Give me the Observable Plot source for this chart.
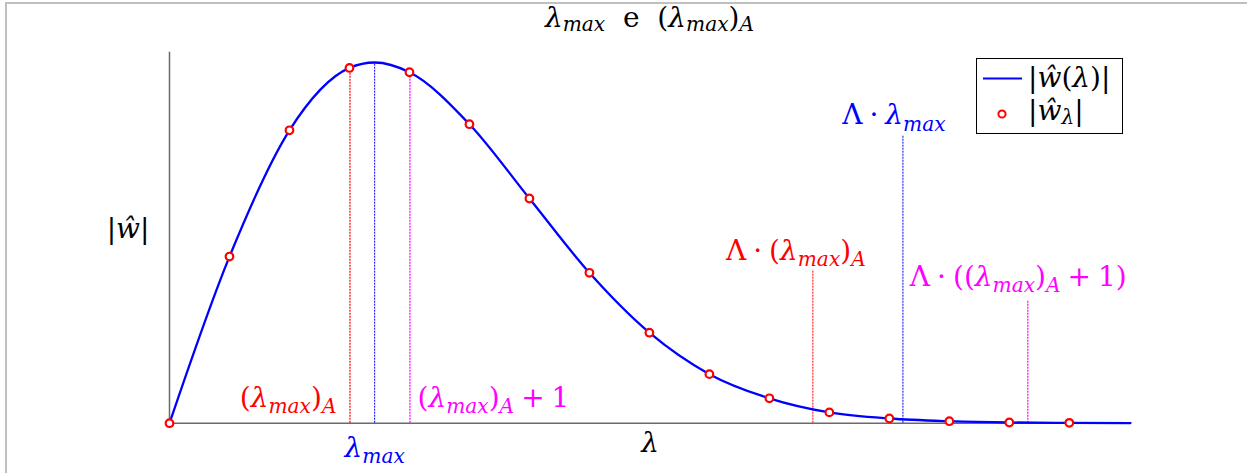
<!DOCTYPE html>
<html>
<head>
<meta charset="utf-8">
<script src="https://cdn.jsdelivr.net/npm/d3@7"></script>
<script src="https://cdn.jsdelivr.net/npm/@observablehq/plot@0.6"></script>
<style>
  html, body { margin: 0; padding: 0; background: #fff; width: 1247px; height: 473px; overflow: hidden; }
  #frame { position: absolute; left: 5px; top: 2px; width: 1400px; height: 700px; border: 2px solid #c0c0c0; box-sizing: border-box; }
  #wrap { position: absolute; left: 0; top: 0; width: 1247px; height: 473px; font-family: "DejaVu Serif", serif; }
  #title { position: absolute; left: 169px; width: 961px; top: 1px; height: 40px; text-align: center; font-size: 28px; line-height: 34px; white-space: nowrap; }
  #chart { position: absolute; left: 0; top: 40px; }
  .sub { font-size: 0.72em; font-style: italic; position: relative; top: 0.22em; }
  i { font-style: italic; }
  #legend { position: absolute; left: 976px; top: 58px; width: 147px; height: 76px; border: 1.3px solid #000; box-sizing: border-box; background: #fff; font-size: 28px; }
  #legend .row { position: absolute; left: 0; white-space: nowrap; line-height: 30px; }
  #legend .txt { position: absolute; left: 51px; }
</style>
</head>
<body>
<div id="frame"></div>
<div id="wrap">
  <div id="title"><i>λ</i><span class="sub">max</span>&nbsp; e &nbsp;(<i>λ</i><span class="sub">max</span>)<span class="sub">A</span></div>
  <div id="chart"></div>
  <div id="legend">
    <div class="row" style="top:4px;width:145px;height:30px">
      <svg width="50" height="30" style="position:absolute;left:0;top:0"><line x1="6" x2="45" y1="15.5" y2="15.5" stroke="#0000ff" stroke-width="2.2"/></svg>
      <span class="txt">|<i>ŵ</i>(<i>λ</i>)|</span>
    </div>
    <div class="row" style="top:37px;width:145px;height:30px">
      <svg width="50" height="30" style="position:absolute;left:0;top:0"><circle cx="25" cy="18" r="3.6" fill="#fff" stroke="#ff0000" stroke-width="2"/></svg>
      <span class="txt">|<i>ŵ</i><span class="sub">λ</span>|</span>
    </div>
  </div>
</div>
<script>
// Sampled magnitudes |ŵ_λ| at integer λ (normalised so the continuous peak is 1)
const lambdaSamples = [0, 1, 2, 3, 4, 5, 6, 7, 8, 9, 10, 11, 12, 13, 14, 15];
const wSamples = [0, 0.462, 0.812, 0.985, 0.973, 0.829, 0.623, 0.417, 0.251, 0.136, 0.069, 0.030, 0.013, 0.0055, 0.002, 0.001];

// Continuous envelope |ŵ(λ)|, including its maximum and the end of the axis
const curveLambda = [0, 1, 2, 3, 3.42, 4, 5, 6, 7, 8, 9, 10, 11, 12, 13, 14, 15, 16.02];
const curveW = [0, 0.462, 0.812, 0.985, 1.0, 0.973, 0.829, 0.623, 0.417, 0.251, 0.136, 0.069, 0.030, 0.013, 0.0055, 0.002, 0.001, 0.0004];

// Characteristic values
const lambdaMax = 3.42;   // λmax
const lambdaA = 3;        // (λmax)A
const bigLambda = 3.575;  // Λ

// Heights of the Λ-scaled markers: Λ·(λmax)A, Λ·λmax, Λ·((λmax)A+1)
const scaledMarkerTops = [0.425, 0.798, 0.34];

// Label texts (plain keys, typeset below with subscripts)
const labelTexts = ["(λmax)A", "(λmax)A + 1", "λmax", "Λ · (λmax)A", "Λ · λmax", "Λ · ((λmax)A + 1)", "λ", "|ŵ|"];

const RED = "#ff0000", BLUE = "#0000ff", MAGENTA = "#ff00ff";
const FS = 28;

const wAt = (l) => wSamples[lambdaSamples.indexOf(l)];
// dotted guides: the ones under the peak are softer, spread over two pixel columns
const dottedSoft = {strokeWidth: 1.2, strokeDasharray: "2,1", dx: 0.5};
const dottedThin = {strokeWidth: 1, strokeDasharray: "2,1"};

const plot = Plot.plot({
  width: 1247,
  height: 433,
  marginLeft: 169,
  marginRight: 117,
  marginTop: 11.7,
  marginBottom: 50.3,
  x: {domain: [0, 16.02], axis: null},
  y: {domain: [0, 1.0286], axis: null},
  style: {fontFamily: "'DejaVu Serif', serif", background: "transparent", overflow: "visible"},
  marks: [
    // axes
    Plot.ruleY([0], {stroke: "#6a6a6a", strokeWidth: 1.5}),
    Plot.ruleX([0], {stroke: "#6a6a6a", strokeWidth: 1.5}),

    // dotted markers up to the curve
    Plot.ruleX([lambdaA], {y1: 0, y2: wAt(lambdaA), stroke: RED, ...dottedSoft}),
    Plot.ruleX([lambdaMax], {y1: 0, y2: d3.max(curveW), stroke: BLUE, ...dottedThin}),
    Plot.ruleX([lambdaA + 1], {y1: 0, y2: wAt(lambdaA + 1), stroke: MAGENTA, ...dottedSoft}),

    // dotted markers at the Λ-scaled values
    Plot.ruleX([bigLambda * lambdaA], {y1: 0, y2: scaledMarkerTops[0], stroke: RED, ...dottedThin}),
    Plot.ruleX([bigLambda * lambdaMax], {y1: 0, y2: scaledMarkerTops[1], stroke: BLUE, ...dottedThin}),
    Plot.ruleX([bigLambda * (lambdaA + 1)], {y1: 0, y2: scaledMarkerTops[2], stroke: MAGENTA, ...dottedSoft}),

    // continuous envelope
    Plot.line(curveLambda, {x: (d) => d, y: (d, i) => curveW[i], stroke: BLUE, strokeWidth: 2.3, curve: "monotone-x"}),

    // discrete samples
    Plot.dot(lambdaSamples, {x: (d) => d, y: (d, i) => wSamples[i], r: 3.8, stroke: RED, strokeWidth: 2.2, fill: "#fff"}),

    // labels
    Plot.text([labelTexts[0]], {x: lambdaA, y: 0, text: (d) => d, fill: RED, fontSize: FS, textAnchor: "end", lineAnchor: "bottom", dx: -13, dy: -16}),
    Plot.text([labelTexts[1]], {x: lambdaA + 1, y: 0, text: (d) => d, fill: MAGENTA, fontSize: FS, textAnchor: "start", lineAnchor: "bottom", dx: 8, dy: -16}),
    Plot.text([labelTexts[2]], {x: lambdaMax, y: 0, text: (d) => d, fill: BLUE, fontSize: FS, textAnchor: "middle", lineAnchor: "bottom", dy: 34}),
    Plot.text([labelTexts[3]], {x: bigLambda * lambdaA, y: scaledMarkerTops[0], text: (d) => d, fill: RED, fontSize: FS, textAnchor: "middle", lineAnchor: "bottom", dx: -17, dy: -10}),
    Plot.text([labelTexts[4]], {x: bigLambda * lambdaMax, y: scaledMarkerTops[1], text: (d) => d, fill: BLUE, fontSize: FS, textAnchor: "middle", lineAnchor: "bottom", dx: -9, dy: -11}),
    Plot.text([labelTexts[5]], {x: bigLambda * (lambdaA + 1), y: scaledMarkerTops[2], text: (d) => d, fill: MAGENTA, fontSize: FS, textAnchor: "middle", lineAnchor: "bottom", dx: -9, dy: -15}),
    Plot.text([labelTexts[6]], {frameAnchor: "bottom", text: (d) => d, fill: "#000", fontSize: FS, textAnchor: "middle", lineAnchor: "bottom", dy: 29}),
    Plot.text([labelTexts[7]], {frameAnchor: "left", text: (d) => d, fill: "#000", fontSize: FS, textAnchor: "end", lineAnchor: "bottom", dx: -20, dy: 0})
  ]
});

document.getElementById("chart").appendChild(plot);

// Typeset labels: [string, flags] with flags "i" italic, "s" subscript
const SP = "\u2005";
const lamMax = [["λ", "i"], ["max", "is"]];
const typeset = {
  "(λmax)A": [["(", ""], ...lamMax, [")", ""], ["A", "is"]],
  "(λmax)A + 1": [["(", ""], ...lamMax, [")", ""], ["A", "is"], [SP + "+" + SP + "1", ""]],
  "λmax": lamMax,
  "Λ · (λmax)A": [["Λ" + SP + "·" + SP + "(", ""], ...lamMax, [")", ""], ["A", "is"]],
  "Λ · λmax": [["Λ" + SP + "·" + SP, ""], ...lamMax],
  "Λ · ((λmax)A + 1)": [["Λ" + SP + "·" + SP + "((", ""], ...lamMax, [")", ""], ["A", "is"], [SP + "+" + SP + "1)", ""]],
  "λ": [["λ", "i"]],
  "|ŵ|": [["|", ""], ["ŵ", "i"], ["|", ""]]
};

const NS = "http://www.w3.org/2000/svg";
plot.querySelectorAll("text").forEach((node) => {
  const parts = typeset[node.textContent];
  if (!parts) return;
  node.textContent = "";
  let shift = 0;
  for (const [str, flags] of parts) {
    const t = document.createElementNS(NS, "tspan");
    const sub = flags.includes("s");
    const target = sub ? 0.22 * FS : 0;
    if (target !== shift) t.setAttribute("dy", target - shift);
    shift = target;
    if (sub) t.setAttribute("font-size", FS * 0.72);
    if (flags.includes("i")) t.setAttribute("font-style", "italic");
    t.textContent = str;
    node.appendChild(t);
  }
});
</script>
</body>
</html>
